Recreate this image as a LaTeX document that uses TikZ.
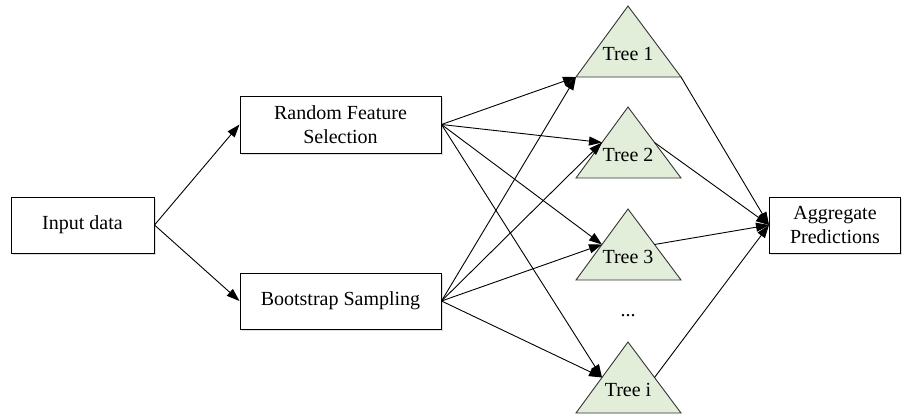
\documentclass[tikz,border=0pt]{standalone}
\usepackage{fontspec}
\setmainfont{Liberation Serif}
\usetikzlibrary{arrows.meta,shadows,calc}
\definecolor{treegreen}{RGB}{226,238,217}
\begin{document}
\begin{tikzpicture}[x=1pt,y=-1pt,
  box/.style={draw=black,line width=1pt,fill=white,inner sep=0pt,align=center,
    font=\fontsize{20}{24}\selectfont,
    drop shadow={shadow xshift=1.5pt,shadow yshift=-2pt,opacity=0.25,fill=gray}},
  treelabel/.style={inner sep=0pt,font=\fontsize{20}{24}\selectfont},
  treeshape/.style={draw=black!80,line width=0.9pt,fill=treegreen},
  conn/.style={line width=0.9pt,-{Triangle[length=13pt,width=9pt]}},
  plain/.style={line width=0.9pt}]
\useasboundingbox (0,0) rectangle (902,415);

% boxes
\node[box,minimum width=143pt,minimum height=56pt] (in) at (82.5,225) {Input data};
\node[box,minimum width=201pt,minimum height=57pt] (rfs) at (340.5,124.5) {Random Feature\\Selection};
\node[box,minimum width=201pt,minimum height=56pt] (bs) at (340.5,301) {Bootstrap Sampling};
\node[box,minimum width=131pt,minimum height=56pt] (agg) at (835,225) {Aggregate\\Predictions};

% trees
\foreach \n/\ya/\lab in {1/6/Tree 1, 2/107/Tree 2, 3/209/Tree 3, i/342/Tree i}{
  \coordinate (t\n a) at (628,\ya);
  \coordinate (t\n l) at (576,\ya+71);
  \coordinate (t\n r) at (681,\ya+71);
  \coordinate (t\n lm) at ($(t\n a)!0.5!(t\n l)$);
  \coordinate (t\n rm) at ($(t\n a)!0.5!(t\n r)$);
  \filldraw[treeshape] (t\n a) -- (t\n l) -- (t\n r) -- cycle;
  \node[treelabel] (t\n) at (628,\ya+48) {\lab};
}
\node[treelabel] (dots) at (628,316) {...};

% input to first stage
\draw[conn] (in.east) -- (rfs.west);
\draw[conn] (in.east) -- (bs.west);

% first stage to trees
\draw[conn] (rfs.east) -- (t1l);
\draw[conn] (bs.east) -- (t1l);
\foreach \n in {2,3,i}{
  \draw[conn] (rfs.east) -- (t\n lm);
  \draw[conn] (bs.east) -- (t\n lm);
}

% trees to aggregate
\draw[conn] (t1r) -- (agg.west);
\foreach \n in {2,3,i}{
  \draw[conn] (t\n rm) -- (agg.west);
}
\end{tikzpicture}
\end{document}
